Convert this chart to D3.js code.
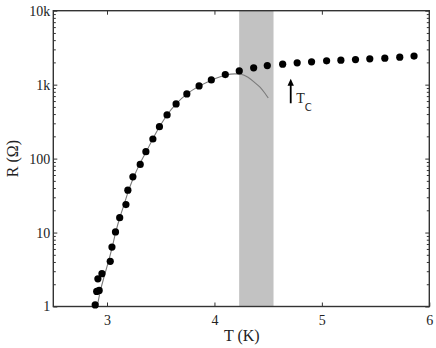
<!DOCTYPE html>
<html>
<head>
<meta charset="utf-8">
<script src="https://cdn.jsdelivr.net/npm/d3@7"></script>
<style>
  body { margin: 0; background: #fff; }
</style>
</head>
<body>
<svg id="chart"></svg>
<script>
// Measured points (T in K, R in ohm)
const tempK = [2.89, 2.904, 2.927, 2.915, 2.953, 3.03, 3.046, 3.079, 3.118, 3.176, 3.194, 3.241,
  3.309, 3.362, 3.427, 3.488, 3.559, 3.643, 3.743, 3.857, 3.971, 4.101, 4.231, 4.365, 4.492,
  4.635, 4.77, 4.904, 5.044, 5.177, 5.313, 5.446, 5.586, 5.725, 5.858];
const resistance = [1.05, 1.6, 1.65, 2.37, 2.78, 4.08, 6.37, 10.2, 15.9, 23.9, 37.4, 56.7,
  83.4, 124, 184, 270, 389, 549, 750, 962, 1160, 1370, 1535, 1687, 1813,
  1893, 1972, 2034, 2098, 2144, 2186, 2234, 2283, 2356, 2431];

// Fit curve
const fitT = [2.909, 2.937, 2.974, 3.011, 3.048, 3.081, 3.12, 3.16, 3.202, 3.248, 3.304, 3.364,
  3.425, 3.49, 3.559, 3.643, 3.745, 3.862, 3.978, 4.099, 4.191, 4.247, 4.312, 4.368, 4.424, 4.47, 4.501];
const fitR = [1.0, 1.6, 2.55, 3.95, 6.3, 10.1, 16.1, 24.2, 37.4, 56, 84.2, 123,
  183, 271, 389, 549, 750, 962, 1160, 1340, 1400, 1380, 1260, 1090, 923, 764, 660];

// Shaded transition band
const bandT = [4.23, 4.55];

// Tc marker
const tcT = 4.71;
const tcArrowR = [560, 1200];

const xTicks = [3, 4, 5, 6];
const yTicks = [1, 10, 100, 1000, 10000];
const yTickLabels = ["1", "10", "100", "1k", "10k"];

const serif = "Liberation Serif, DejaVu Serif, serif";

const width = 436, height = 348;
const svg = d3.select("#chart").attr("width", width).attr("height", height);

const x = d3.scaleLinear().domain([2.5, 6]).range([53.3, 429.3]);
const y = d3.scaleLog().domain([1, 10000]).range([306.5, 10.7]);

const minorTicks = [];
for (let d = 1; d < 10000; d *= 10) {
  for (let k = 2; k <= 9; k++) minorTicks.push(d * k);
}

// band
svg.append("rect")
  .attr("x", x(bandT[0]))
  .attr("y", y(10000))
  .attr("width", x(bandT[1]) - x(bandT[0]))
  .attr("height", y(1) - y(10000))
  .attr("fill", "#c2c2c2");

// axes (ticks pointing inward)
const axisColor = "#333";
function styleAxis(g, noLabels) {
  g.attr("font-family", serif).attr("font-size", 14);
  g.select(".domain").remove();
  g.selectAll(".tick line").attr("stroke", axisColor).attr("stroke-width", 1);
  if (noLabels) g.selectAll(".tick text").remove();
  g.selectAll(".tick text").attr("fill", "#222");
}

svg.append("g")
  .attr("transform", `translate(0,${y(1)})`)
  .call(d3.axisBottom(x).tickValues(xTicks).tickSize(-4).tickPadding(9).tickFormat(d3.format("d")))
  .call(g => styleAxis(g));

svg.append("g")
  .attr("transform", `translate(0,${y(10000)})`)
  .call(d3.axisTop(x).tickValues(xTicks.slice(0, 3)).tickSize(-4))
  .call(g => styleAxis(g, true));

svg.append("g")
  .attr("transform", `translate(${x(2.5)},0)`)
  .call(d3.axisLeft(y).tickValues(yTicks).tickSize(-4).tickPadding(3)
    .tickFormat((d, i) => yTickLabels[i]))
  .call(g => styleAxis(g));

svg.append("g")
  .attr("transform", `translate(${x(2.5)},0)`)
  .call(d3.axisLeft(y).tickValues(minorTicks).tickSize(-2.5))
  .call(g => styleAxis(g, true));

svg.append("g")
  .attr("transform", `translate(${x(6)},0)`)
  .call(d3.axisRight(y).tickValues(yTicks).tickSize(-4))
  .call(g => styleAxis(g, true));

svg.append("g")
  .attr("transform", `translate(${x(6)},0)`)
  .call(d3.axisRight(y).tickValues(minorTicks).tickSize(-2.5))
  .call(g => styleAxis(g, true));

// frame
svg.append("rect")
  .attr("x", x(2.5)).attr("y", y(10000))
  .attr("width", x(6) - x(2.5)).attr("height", y(1) - y(10000))
  .attr("fill", "none").attr("stroke", axisColor).attr("stroke-width", 1.4);

// fit curve
const fitData = fitT.map((t, i) => ({ t, r: fitR[i] }));
svg.append("path")
  .datum(fitData)
  .attr("fill", "none")
  .attr("stroke", "#7a7a7a")
  .attr("stroke-width", 1.1)
  .attr("d", d3.line().x(d => x(d.t)).y(d => y(d.r)).curve(d3.curveMonotoneX));

// points
const points = tempK.map((t, i) => ({ t, r: resistance[i] }));
svg.append("g").selectAll("circle")
  .data(points)
  .join("circle")
  .attr("cx", d => x(d.t))
  .attr("cy", d => y(d.r))
  .attr("r", 3.6)
  .attr("fill", "#000");

// Tc arrow
const ax = x(tcT), ayTop = y(tcArrowR[1]), ayBot = y(tcArrowR[0]);
svg.append("line")
  .attr("x1", ax).attr("x2", ax)
  .attr("y1", ayTop + 5).attr("y2", ayBot)
  .attr("stroke", "#000").attr("stroke-width", 1.8);
svg.append("path")
  .attr("d", `M${ax},${ayTop} L${ax - 3.2},${ayTop + 7} L${ax + 3.2},${ayTop + 7} Z`)
  .attr("fill", "#000");
const tc = svg.append("text")
  .attr("x", ax + 5.5).attr("y", ayBot)
  .attr("font-size", 14)
  .attr("font-family", serif)
  .attr("fill", "#222");
tc.append("tspan").text("T");
tc.append("tspan").attr("dy", 8).attr("dx", 0)
  .attr("font-size", 10).attr("font-family", "DejaVu Sans, sans-serif").text("C");

// axis labels
svg.append("text")
  .attr("x", (x(2.5) + x(6)) / 2 + 0.5)
  .attr("y", 341)
  .attr("text-anchor", "middle")
  .attr("font-size", 16)
  .attr("font-family", serif)
  .attr("fill", "#222")
  .text("T (K)");

svg.append("text")
  .attr("transform", `translate(18,${(y(1) + y(10000)) / 2}) rotate(-90)`)
  .attr("text-anchor", "middle")
  .attr("font-size", 16)
  .attr("font-family", serif)
  .attr("fill", "#222")
  .text("R (Ω)");
</script>
</body>
</html>
